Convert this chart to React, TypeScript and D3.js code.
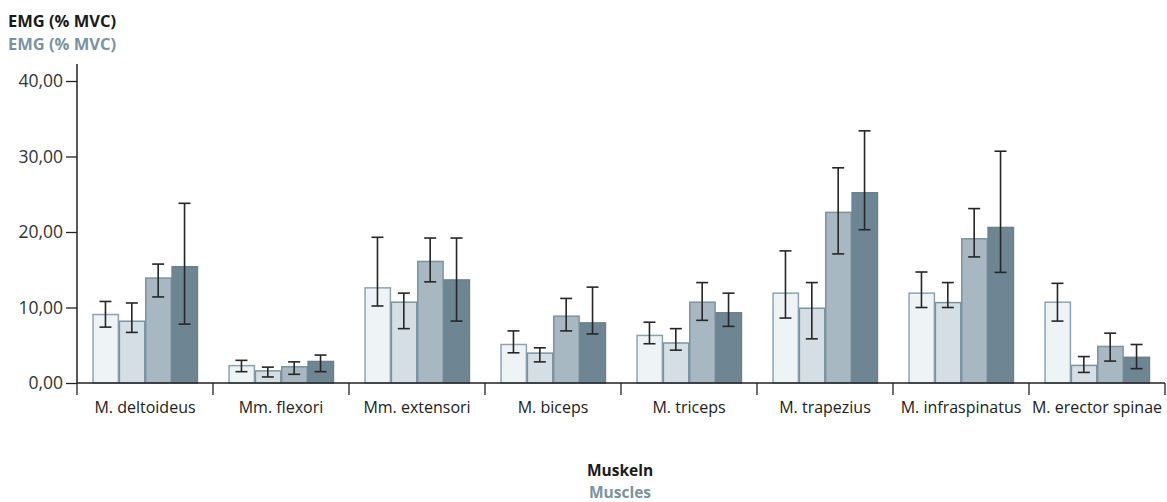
import { useEffect, useRef } from 'react'
import * as d3 from 'd3'

const muscles = [
  'M. deltoideus',
  'Mm. flexori',
  'Mm. extensori',
  'M. biceps',
  'M. triceps',
  'M. trapezius',
  'M. infraspinatus',
  'M. erector spinae',
]

const seriesNames = ['s1', 's2', 's3', 's4']

// mean EMG per series
const mean1 = [9.07, 2.3, 12.6, 5.1, 6.3, 11.9, 11.9, 10.7]
const mean2 = [8.18, 1.6, 10.7, 3.96, 5.3, 9.9, 10.65, 2.33]
const mean3 = [13.9, 2.15, 16.1, 8.85, 10.7, 22.6, 19.1, 4.84]
const mean4 = [15.4, 2.85, 13.65, 7.96, 9.3, 25.2, 20.6, 3.4]

// whisker ends
const hi1 = [10.8, 3.0, 19.3, 6.9, 8.05, 17.5, 14.7, 13.2]
const lo1 = [7.4, 1.5, 10.2, 4.0, 5.2, 8.6, 10.0, 8.2]
const hi2 = [10.6, 2.1, 11.9, 4.66, 7.2, 13.3, 13.3, 3.5]
const lo2 = [6.7, 0.8, 7.2, 2.8, 4.35, 5.85, 10.0, 1.4]
const hi3 = [15.75, 2.8, 19.2, 11.2, 13.3, 28.5, 23.1, 6.6]
const lo3 = [11.4, 1.15, 13.4, 6.9, 8.3, 17.1, 16.7, 2.9]
const hi4 = [23.8, 3.7, 19.2, 12.7, 11.9, 33.4, 30.7, 5.1]
const lo4 = [7.8, 1.5, 8.2, 6.5, 7.5, 20.3, 14.65, 1.9]

const yTicks = [0, 10, 20, 30, 40]

const fills = ['#eef3f6', '#d4dee4', '#a8b8c3', '#6e8593']
const strokes = ['#8ea3b1', '#7d93a1', '#7d93a1', '#6a808e']

const FONT = '"Open Sans", "DejaVu Sans", sans-serif'

export default function App() {
  const svgRef = useRef<SVGSVGElement>(null)
  const width = 1167
  const height = 502

  useEffect(() => {
    if (!svgRef.current) return
    const svg = d3.select(svgRef.current)
    svg.selectAll('*').remove()

    const means = [mean1, mean2, mean3, mean4]
    const his = [hi1, hi2, hi3, hi4]
    const los = [lo1, lo2, lo3, lo4]

    const x0 = d3.scaleBand().domain(muscles).range([77, 1165])
    const x1 = d3
      .scaleBand()
      .domain(seriesNames)
      .range([0, x0.bandwidth()])
      .paddingOuter(0.58)
    const y = d3.scaleLinear().domain([0, 40]).range([383, 81])

    // Titles
    svg
      .append('text')
      .attr('x', 8)
      .attr('y', 27)
      .attr('font-family', FONT)
      .attr('font-weight', 700)
      .attr('font-size', '16.5px')
      .attr('fill', '#1a1a1a')
      .text('EMG (% MVC)')
    svg
      .append('text')
      .attr('x', 8)
      .attr('y', 50)
      .attr('font-family', FONT)
      .attr('font-weight', 700)
      .attr('font-size', '16.5px')
      .attr('fill', '#7a93a3')
      .text('EMG (% MVC)')

    // Y axis
    const yAxis = svg
      .append('g')
      .attr('transform', 'translate(77,0)')
      .call(
        d3
          .axisLeft(y)
          .tickValues(yTicks)
          .tickSize(11)
          .tickPadding(3)
          .tickFormat((d) => d3.format('.2f')(d as number).replace('.', ','))
      )
    yAxis.select('.domain').remove()
    yAxis.selectAll('line').attr('stroke', '#222').attr('stroke-width', 1.3)
    yAxis
      .selectAll('text')
      .attr('fill', '#333')
      .attr('font-family', FONT)
      .attr('font-size', '17.5px')

    svg
      .append('line')
      .attr('x1', 77)
      .attr('x2', 77)
      .attr('y1', 64)
      .attr('y2', 383)
      .attr('stroke', '#222')
      .attr('stroke-width', 1.5)

    // Bars
    muscles.forEach((m, i) => {
      const gx = x0(m) || 0
      seriesNames.forEach((s, k) => {
        const bx = gx + (x1(s) || 0)
        const v = means[k][i]
        svg
          .append('rect')
          .attr('x', bx + 0.75)
          .attr('y', y(v))
          .attr('width', x1.bandwidth() - 1)
          .attr('height', y(0) - y(v))
          .attr('fill', fills[k])
          .attr('stroke', strokes[k])
          .attr('stroke-width', 1.5)
      })
    })

    // Error bars
    muscles.forEach((m, i) => {
      const gx = x0(m) || 0
      seriesNames.forEach((s, k) => {
        const cx = gx + (x1(s) || 0) + x1.bandwidth() / 2
        const eg = svg.append('g').attr('stroke', '#262626').attr('stroke-width', 1.6)
        eg.append('line')
          .attr('x1', cx)
          .attr('x2', cx)
          .attr('y1', y(his[k][i]))
          .attr('y2', y(los[k][i]))
        ;[his[k][i], los[k][i]].forEach((v) => {
          eg.append('line')
            .attr('x1', cx - 6)
            .attr('x2', cx + 6)
            .attr('y1', y(v))
            .attr('y2', y(v))
        })
      })
    })

    // X axis
    svg
      .append('line')
      .attr('x1', 77)
      .attr('x2', 1165)
      .attr('y1', 383)
      .attr('y2', 383)
      .attr('stroke', '#222')
      .attr('stroke-width', 1.5)

    const bounds = muscles.map((m) => x0(m) || 0).concat([1165])
    svg
      .selectAll('.xtick')
      .data(bounds)
      .enter()
      .append('line')
      .attr('class', 'xtick')
      .attr('x1', (d) => d)
      .attr('x2', (d) => d)
      .attr('y1', 383)
      .attr('y2', 395)
      .attr('stroke', '#222')
      .attr('stroke-width', 1.3)

    svg
      .selectAll('.xlabel')
      .data(muscles)
      .enter()
      .append('text')
      .attr('class', 'xlabel')
      .attr('x', (d) => (x0(d) || 0) + x0.bandwidth() / 2)
      .attr('y', 413)
      .attr('text-anchor', 'middle')
      .attr('font-family', FONT)
      .attr('font-size', '16px')
      .attr('fill', '#222')
      .text((d) => d)

    // Axis title
    svg
      .append('text')
      .attr('x', 620)
      .attr('y', 476)
      .attr('text-anchor', 'middle')
      .attr('font-family', FONT)
      .attr('font-weight', 700)
      .attr('font-size', '15.5px')
      .attr('fill', '#1a1a1a')
      .text('Muskeln')
    svg
      .append('text')
      .attr('x', 620)
      .attr('y', 498)
      .attr('text-anchor', 'middle')
      .attr('font-family', FONT)
      .attr('font-weight', 700)
      .attr('font-size', '15.5px')
      .attr('fill', '#7a93a3')
      .text('Muscles')
  }, [])

  return (
    <svg
      ref={svgRef}
      width={width}
      height={height}
      style={{ position: 'absolute', left: 0, top: 0, background: '#fff' }}
    />
  )
}
